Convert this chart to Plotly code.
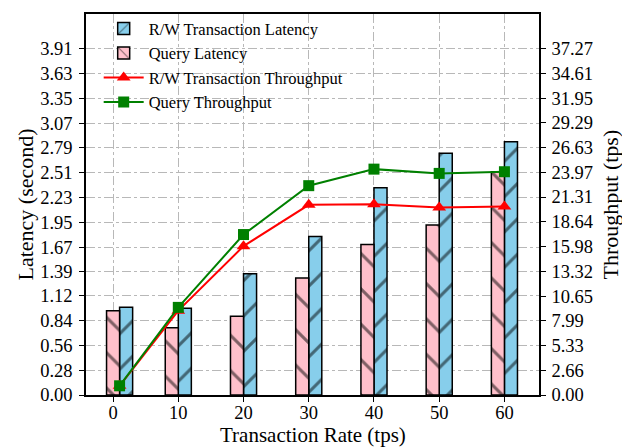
import plotly.graph_objects as go

# ---- data ----
rates = [1, 10, 20, 30, 40, 50, 60]
x_ticks = [0, 10, 20, 30, 40, 50, 60]
rw_latency = [0.99, 0.98, 1.37, 1.79, 2.34, 2.73, 2.86]
query_latency = [0.95, 0.76, 0.89, 1.32, 1.70, 1.92, 2.52]
rw_throughput = [0.99, 9.08, 16.02, 20.47, 20.54, 20.18, 20.29]
query_throughput = [0.99, 9.43, 17.27, 22.53, 24.31, 23.85, 24.03]
lat_ticks = ["0.00", "0.28", "0.56", "0.84", "1.12", "1.39", "1.67", "1.95",
             "2.23", "2.51", "2.79", "3.07", "3.35", "3.63", "3.91"]
tput_ticks = ["0.00", "2.66", "5.33", "7.99", "10.65", "13.32", "15.98", "18.64",
              "21.31", "23.97", "26.63", "29.29", "31.95", "34.61", "37.27"]

FONT = "Liberation Serif"
lat_top = 4.302
tput_top = lat_top * float(tput_ticks[-1]) / float(lat_ticks[-1])

fig = go.Figure()
fig.add_trace(go.Bar(
    x=rates, y=rw_latency, name="R/W Transaction Latency",
    width=2, offset=0,
    marker=dict(color="#87CEEB", line=dict(color="black", width=1.5),
                pattern=dict(shape="/", size=25, solidity=0.12, fgcolor="black",
                             bgcolor="#87CEEB")),
    yaxis="y",
))
fig.add_trace(go.Bar(
    x=rates, y=query_latency, name="Query Latency",
    width=2, offset=-2,
    marker=dict(color="#FFC0CB", line=dict(color="black", width=1.5),
                pattern=dict(shape="\\", size=25, solidity=0.12, fgcolor="black",
                             bgcolor="#FFC0CB")),
    yaxis="y",
))
fig.add_trace(go.Scatter(
    x=rates, y=rw_throughput, name="R/W Transaction Throughput",
    mode="lines+markers", line=dict(color="#FF0000", width=2),
    marker=dict(symbol="triangle-up", size=12, color="#FF0000"),
    yaxis="y2",
))
fig.add_trace(go.Scatter(
    x=rates, y=query_throughput, name="Query Throughput",
    mode="lines+markers", line=dict(color="#008000", width=2),
    marker=dict(symbol="square", size=11, color="#008000"),
    yaxis="y2",
))

grid = dict(showgrid=True, gridcolor="#b8b8b8", griddash="dashdot", gridwidth=1)
tickf = dict(size=18.5, family=FONT, color="black")

# page body has an 8px margin: the figure is shifted by 8px, so compensate
fig.update_layout(
    width=622, height=439,
    margin=dict(l=78, r=91, t=3, b=52),
    paper_bgcolor="white", plot_bgcolor="white",
    barmode="overlay",
    font=dict(family=FONT, size=18, color="black"),
    showlegend=True,
    legend=dict(x=0.028, y=1.007, xanchor="left", yanchor="top",
                bgcolor="rgba(0,0,0,0)", font=dict(size=16.5, family=FONT),
                tracegroupgap=0, itemwidth=40),
    xaxis=dict(
        range=[-4.15, 65.3], tickmode="array", tickvals=x_ticks,
        ticks="outside", ticklen=5, tickcolor="black",
        showline=True, linecolor="black", linewidth=1.5, mirror=True,
        zeroline=False, tickfont=tickf, ticklabelstandoff=-5,
        **grid,
    ),
    yaxis=dict(
        range=[0, lat_top], tickmode="array",
        tickvals=[float(t) for t in lat_ticks], ticktext=lat_ticks,
        ticks="outside", ticklen=5, tickcolor="black",
        showline=True, linecolor="black", linewidth=1.5,
        zeroline=False, tickfont=tickf, ticklabelstandoff=3,
        **grid,
    ),
    yaxis2=dict(
        range=[0, tput_top], overlaying="y", side="right", tickmode="array",
        tickvals=[float(t) for t in tput_ticks], ticktext=tput_ticks,
        ticks="outside", ticklen=5, tickcolor="black",
        showline=True, linecolor="black", linewidth=1.5,
        zeroline=False, showgrid=False, tickfont=tickf, ticklabelstandoff=2,
    ),
    annotations=[
        dict(text="Transaction Rate (tps)", xref="paper", yref="paper",
             x=0.5, y=-0.104, xanchor="center", yanchor="middle",
             showarrow=False, font=dict(size=21, family=FONT)),
        dict(text="Latency (second)", xref="paper", yref="paper",
             x=-61 / 453, y=0.5, xanchor="center", yanchor="middle",
             textangle=-90, showarrow=False, font=dict(size=22, family=FONT)),
        dict(text="Throughput (tps)", xref="paper", yref="paper",
             x=1 + 71 / 453, y=0.5, xanchor="center", yanchor="middle",
             textangle=-90, showarrow=False, font=dict(size=22, family=FONT)),
    ],
)

fig.write_html("out.html")
